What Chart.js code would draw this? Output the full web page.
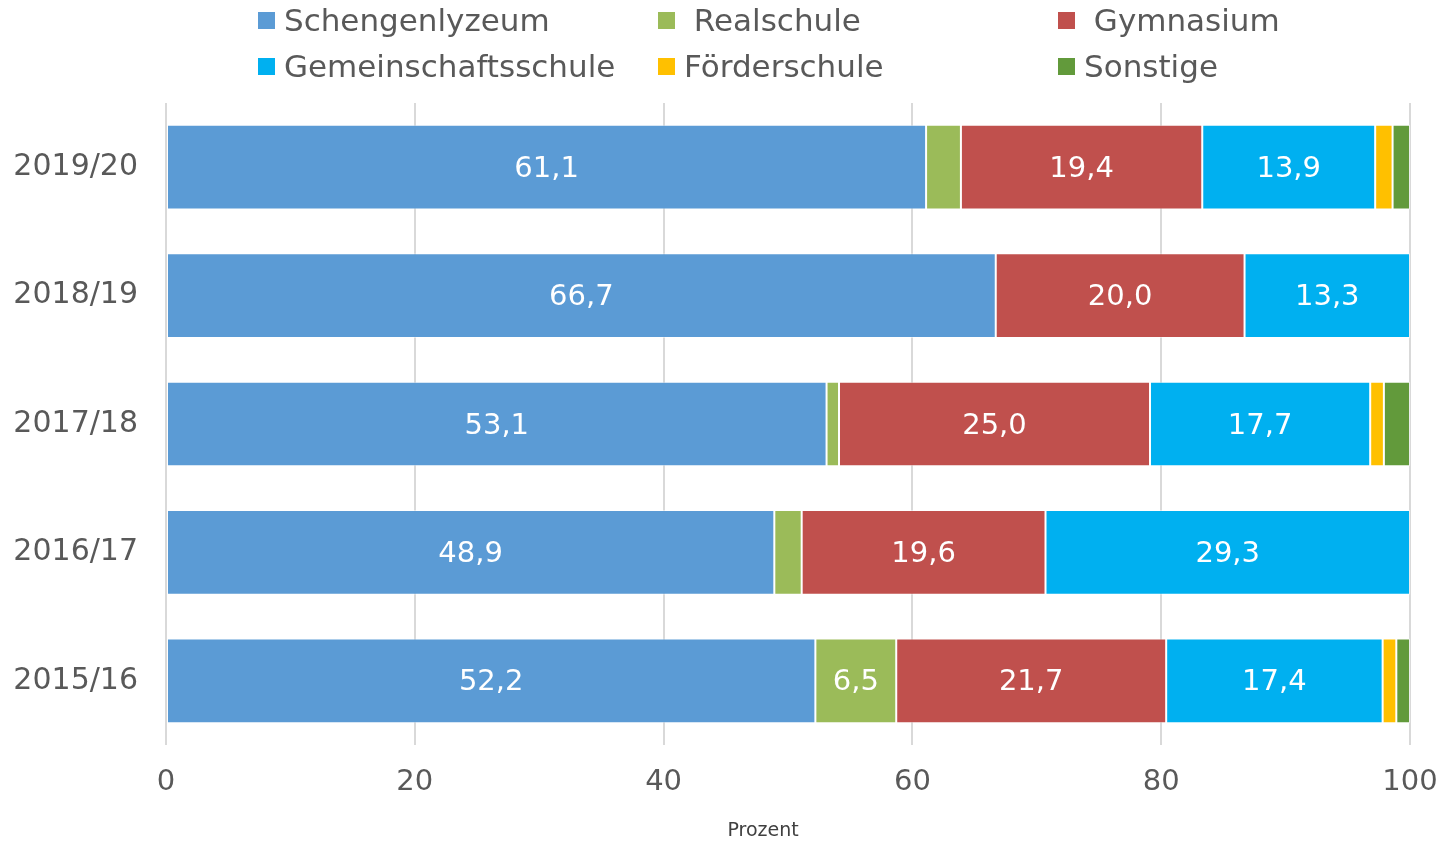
<!DOCTYPE html>
<html>
<head>
<meta charset="utf-8">
<script src="https://cdn.jsdelivr.net/npm/chart.js@4.4.1/dist/chart.umd.min.js"></script>
<style>
  body { margin: 0; background: #fff; font-family: "DejaVu Sans", Verdana, sans-serif; }
  #wrap { position: relative; width: 1445px; height: 843px; }
  #legend { position: absolute; left: 258px; top: 0; width: 1200px; }
  .item { position: absolute; display: flex; align-items: center; font-size: 31px; color: #595959; white-space: pre; }
  .box { width: 17px; height: 17px; margin-right: 9px; }
</style>
</head>
<body>
<div id="wrap">
  <canvas id="chart" width="1445" height="843"></canvas>
  <div id="legend"></div>
</div>
<script>
// School years (top to bottom)
const years = ['2019/20', '2018/19', '2017/18', '2016/17', '2015/16'];

// Share in percent per school type
const schengenlyzeum      = [61.1, 66.7, 53.1, 48.9, 52.2];
const realschule          = [2.8, 0, 1.0, 2.2, 6.5];
const gymnasium           = [19.4, 20.0, 25.0, 19.6, 21.7];
const gemeinschaftsschule = [13.9, 13.3, 17.7, 29.3, 17.4];
const foerderschule       = [1.4, 0, 1.1, 0, 1.1];
const sonstige            = [1.4, 0, 2.1, 0, 1.1];

const seriesNames = ['Schengenlyzeum', ' Realschule', ' Gymnasium', 'Gemeinschaftsschule', 'Förderschule', 'Sonstige'];
const seriesData = [schengenlyzeum, realschule, gymnasium, gemeinschaftsschule, foerderschule, sonstige];
const seriesColors = ['#5b9bd5', '#9bbb59', '#c0504d', '#00b0f0', '#ffc000', '#629a3b'];

const xTicks = [0, 20, 40, 60, 80, 100];
const xTitle = 'Prozent';

const fontFamily = '"DejaVu Sans", Verdana, sans-serif';

// HTML legend, 3 columns x 2 rows
const legend = document.getElementById('legend');
seriesNames.forEach((name, i) => {
  const el = document.createElement('div');
  el.className = 'item';
  el.style.left = (i % 3) * 400 + 'px';
  el.style.top = (i < 3 ? 2 : 48) + 'px';
  el.innerHTML = '<span class="box" style="background:' + seriesColors[i] + '"></span>' + name;
  legend.appendChild(el);
});

// Draw value labels inside segments, plus the axis title (sits left of centre in the original)
const valueLabels = {
  id: 'valueLabels',
  afterDatasetsDraw(chart) {
    const ctx = chart.ctx;
    ctx.save();
    ctx.fillStyle = '#ffffff';
    ctx.font = '29px ' + fontFamily;
    ctx.textAlign = 'center';
    ctx.textBaseline = 'middle';
    chart.data.datasets.forEach((ds, di) => {
      const meta = chart.getDatasetMeta(di);
      meta.data.forEach((bar, i) => {
        const v = ds.data[i];
        if (v < 5) return;
        const cx = (bar.x + bar.base) / 2;
        ctx.fillText(v.toFixed(1).replace('.', ','), cx, bar.y + 2);
      });
    });

    const x = chart.scales.x;
    ctx.fillStyle = '#404040';
    ctx.font = '19px ' + fontFamily;
    ctx.fillText(xTitle, x.getPixelForValue(48), 831);
    ctx.restore();
  }
};

new Chart(document.getElementById('chart'), {
  type: 'bar',
  data: {
    labels: years,
    datasets: seriesData.map((d, i) => ({
      label: seriesNames[i].trim(),
      data: d,
      backgroundColor: seriesColors[i],
      borderColor: 'rgba(255,255,255,0.5)',
      borderWidth: 1,
      borderSkipped: false,
      categoryPercentage: 0.66,
      barPercentage: 1
    }))
  },
  options: {
    indexAxis: 'y',
    responsive: false,
    animation: false,
    layout: { padding: { top: 103, right: 35, left: 10, bottom: 2 } },
    plugins: {
      legend: { display: false },
      tooltip: { enabled: false }
    },
    scales: {
      x: {
        stacked: true,
        min: 0,
        max: 100,
        afterBuildTicks: axis => { axis.ticks = xTicks.map(v => ({ value: v })); },
        afterFit: axis => {
          axis.height = 96;
          axis.paddingLeft = 0;
          axis.paddingRight = 0;
        },
        grid: { color: '#d9d9d9', lineWidth: 2, drawTicks: false },
        border: { display: false },
        ticks: {
          color: '#595959',
          font: { family: fontFamily, size: 29 },
          padding: 20
        }
      },
      y: {
        stacked: true,
        afterFit: axis => { axis.width = 156; },
        grid: { display: false, drawTicks: false },
        border: { display: false },
        ticks: {
          color: '#595959',
          font: { family: fontFamily, size: 30 },
          padding: 28
        }
      }
    }
  },
  plugins: [valueLabels]
});
</script>
</body>
</html>
